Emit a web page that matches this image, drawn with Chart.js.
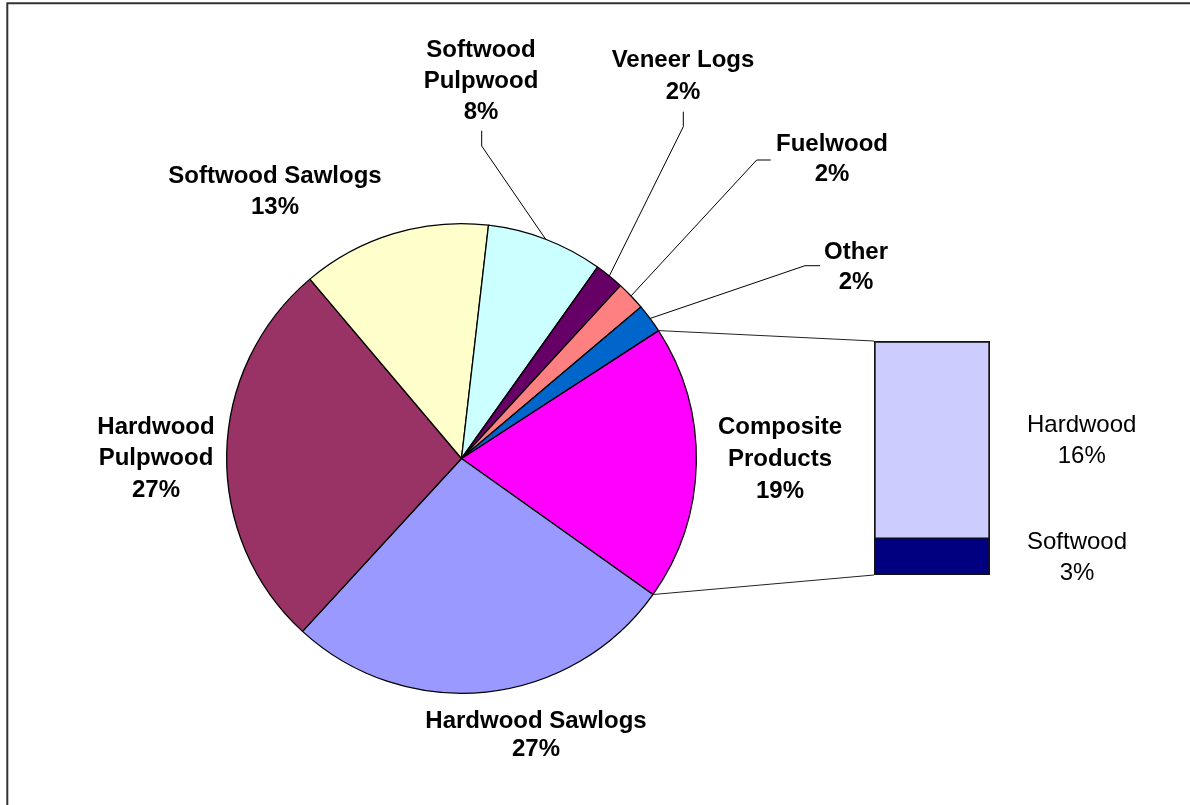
<!DOCTYPE html>
<html>
<head>
<meta charset="utf-8">
<title>Roundwood Products</title>
<script src="https://cdn.jsdelivr.net/npm/chart.js@4"></script>
<style>
  body { margin: 0; background: #fff; }
  #wrap { position: relative; width: 1190px; height: 805px; }
  #wrap canvas { position: absolute; left: 0; top: 0; }
</style>
</head>
<body>
<div id="wrap">
  <canvas id="barChart" width="1190" height="805"></canvas>
  <canvas id="pieChart" width="1190" height="805"></canvas>
</div>
<script>
// pie slices (percent of total)
const categories = ["Composite Products", "Hardwood Sawlogs", "Hardwood Pulpwood", "Softwood Sawlogs",
                    "Softwood Pulpwood", "Veneer Logs", "Fuelwood", "Other"];
const shares = [19, 27, 27, 13, 8, 2, 2, 2];

// breakdown of composite products, bottom to top
const compositeParts = ["Softwood", "Hardwood"];
const compositeShares = [3, 16];

const sliceColors = ["#FF00FF", "#9999FF", "#993366", "#FFFFCC", "#CCFFFF", "#660066", "#FF8080", "#0066CC"];
const partColors = ["#000080", "#CCCCFF"];

const FONT = '"Liberation Sans", Arial, sans-serif';

// label placement, offsets from pie centre (first line), leader elbow points
const labelLayout = [
  { dx: 318.5, dy: -31.5, gap: 32, wrap: true },
  { dx: 74.5, dy: 262.5, gap: 28.5, wrap: false },
  { dx: -305.5, dy: -31.5, gap: 31.5, wrap: true },
  { dx: -186.5, dy: -282.5, gap: 31, wrap: false },
  { dx: 19.5, dy: -408.5, gap: 31, wrap: true, leader: [[20.2, -312.5], [20.2, -327.8]] },
  { dx: 221.5, dy: -398.5, gap: 32, wrap: false, leader: [[221.8, -331.8], [221.8, -346.8]] },
  { dx: 370.5, dy: -313.8, gap: 29.5, wrap: true, leader: [[295.2, -298.5], [309.2, -298.5]] },
  { dx: 394.5, dy: -206, gap: 29.5, wrap: true, leader: [[343.5, -192.8], [358.5, -192.8]] }
];

const total = shares.reduce((a, b) => a + b, 0);
const pct = v => Math.round(v / total * 100) + "%";

// labels next to the stacked bar
const barLabels = {
  id: "barLabels",
  afterDatasetsDraw(chart) {
    const ctx = chart.ctx;
    ctx.save();
    ctx.font = "24px " + FONT;
    ctx.fillStyle = "#000";
    ctx.textAlign = "center";
    ctx.textBaseline = "middle";
    chart.data.datasets.forEach((ds, i) => {
      const bar = chart.getDatasetMeta(i).data[0];
      const lines = [ds.label, pct(ds.data[0])];
      const w = Math.max(...lines.map(t => ctx.measureText(t).width));
      const left = bar.x + bar.width / 2 + 37;
      const mid = (bar.y + bar.base) / 2 + 1;
      lines.forEach((t, k) => ctx.fillText(t, left + w / 2, mid + (k - 0.5) * 31));
    });
    ctx.restore();
  }
};

const barChart = new Chart(document.getElementById("barChart"), {
  type: "bar",
  data: {
    labels: ["Composite Products"],
    datasets: compositeParts.map((p, i) => ({
      label: p,
      data: [compositeShares[i]],
      backgroundColor: partColors[i],
      borderColor: "#111",
      // outer edge heavier than the shared middle edge
      borderWidth: i === 0 ? { left: 2, right: 2, top: 1, bottom: 2 } : { left: 2, right: 2, top: 2, bottom: 1 },
      borderSkipped: false,
      barPercentage: 1,
      categoryPercentage: 1
    }))
  },
  options: {
    responsive: false,
    animation: false,
    layout: { padding: { left: 874, right: 200, top: 341, bottom: 230 } },
    scales: {
      x: { stacked: true, display: false },
      y: { stacked: true, display: false, min: 0, max: compositeShares.reduce((a, b) => a + b, 0) }
    },
    plugins: { legend: { display: false }, tooltip: { enabled: false } }
  },
  plugins: [barLabels]
});

// pie labels, leader lines, connectors to the bar and the outer frame
const pieLabels = {
  id: "pieLabels",
  afterDatasetsDraw(chart) {
    const ctx = chart.ctx;
    const arcs = chart.getDatasetMeta(0).data;
    const cx = arcs[0].x, cy = arcs[0].y;
    ctx.save();

    ctx.strokeStyle = "#333";
    ctx.lineWidth = 2;
    ctx.beginPath();
    ctx.moveTo(7.3, 805);
    ctx.lineTo(7.3, 3.2);
    ctx.lineTo(1190, 3.2);
    ctx.stroke();

    ctx.strokeStyle = "#000";
    ctx.lineWidth = 1;
    ctx.font = "bold 24px " + FONT;
    ctx.fillStyle = "#000";
    ctx.textAlign = "center";
    ctx.textBaseline = "middle";
    arcs.forEach((arc, i) => {
      const lay = labelLayout[i];
      if (lay.leader) {
        const mid = (arc.startAngle + arc.endAngle) / 2;
        ctx.beginPath();
        ctx.moveTo(cx + Math.cos(mid) * arc.outerRadius, cy + Math.sin(mid) * arc.outerRadius);
        lay.leader.forEach(p => ctx.lineTo(cx + p[0], cy + p[1]));
        ctx.stroke();
      }
      const lines = lay.wrap ? categories[i].split(" ") : [categories[i]];
      lines.push(pct(shares[i]));
      lines.forEach((t, k) => ctx.fillText(t, cx + lay.dx, cy + lay.dy + k * lay.gap));
    });

    // composite slice fans out to the breakdown bar
    const comp = arcs[0];
    const metas = barChart.data.datasets.map((d, i) => barChart.getDatasetMeta(i).data[0]);
    const top = metas[metas.length - 1], bottom = metas[0];
    ctx.strokeStyle = "#222";
    ctx.beginPath();
    ctx.moveTo(cx + Math.cos(comp.startAngle) * comp.outerRadius, cy + Math.sin(comp.startAngle) * comp.outerRadius);
    ctx.lineTo(top.x - top.width / 2, top.y);
    ctx.moveTo(cx + Math.cos(comp.endAngle) * comp.outerRadius, cy + Math.sin(comp.endAngle) * comp.outerRadius);
    ctx.lineTo(bottom.x - bottom.width / 2, bottom.base);
    ctx.stroke();
    ctx.restore();
  }
};

new Chart(document.getElementById("pieChart"), {
  type: "pie",
  data: {
    labels: categories,
    datasets: [{
      data: shares,
      backgroundColor: sliceColors,
      borderColor: "#000",
      borderWidth: 1.3
    }]
  },
  options: {
    responsive: false,
    animation: false,
    rotation: 57,
    layout: { padding: { left: 226, right: 493, top: 223, bottom: 111 } },
    plugins: { legend: { display: false }, tooltip: { enabled: false } }
  },
  plugins: [pieLabels]
});
</script>
</body>
</html>
